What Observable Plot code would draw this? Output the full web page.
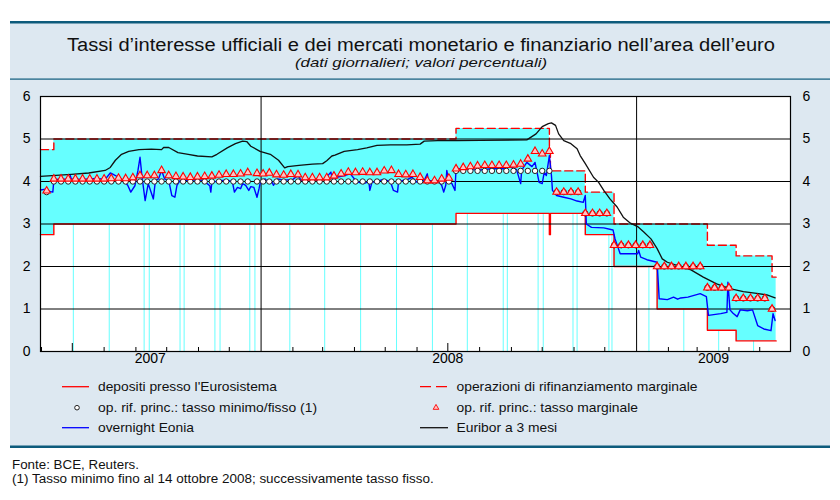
<!DOCTYPE html>
<html lang="it"><head><meta charset="utf-8">
<script src="https://cdn.jsdelivr.net/npm/d3@7"></script>
<script src="https://cdn.jsdelivr.net/npm/@observablehq/plot@0.6"></script>
<style>
html,body{margin:0;padding:0;background:#fff;}
#page{position:relative;width:840px;height:500px;overflow:hidden;font-family:"Liberation Sans",Arial,Helvetica,sans-serif;}
#bg,#fg{position:absolute;left:0;top:0;}
#chart{position:absolute;left:0;top:86px;}
#fg{pointer-events:none;}
</style></head><body>
<div id="page"><svg id="bg" width="840" height="500"></svg><div id="chart"></div><svg id="fg" width="840" height="500"></svg></div>
<script>
// ---------- DATA ----------
const titleText = "Tassi d’interesse ufficiali e dei mercati monetario e finanziario nell’area dell’euro";
const subtitleText = "(dati giornalieri; valori percentuali)";
const legendLabels = ["depositi presso l'Eurosistema","operazioni di rifinanziamento marginale","op. rif. princ.: tasso minimo/fisso (1)","op. rif. princ.: tasso marginale","overnight Eonia","Euribor a 3 mesi"];
const notes = ["Fonte: BCE, Reuters.","(1) Tasso minimo fino al 14 ottobre 2008; successivamente tasso fisso."];

const yTicks = [0,1,2,3,4,5,6];
const yearLabels = ["2007","2008","2009"];
const yearLabelDates = ["2007-09-15","2008-07-01","2009-03-17"];
const yearStarts = ["2008-01-01","2009-01-01"];
const midYearTicks = ["2007-07-01","2008-07-01"];

// official rates corridor (step changes)
const bandDates = ["2007-05-31","2007-06-13","2008-07-09","2008-10-08","2008-10-09","2008-11-12","2008-12-10","2009-01-21","2009-03-11","2009-04-08","2009-05-13","2009-05-17"];
const depRates  = [2.75,3.00,3.25,2.75,3.25,2.75,2.00,1.00,0.50,0.25,0.25,0.25];
const mlfRates  = [4.75,5.00,5.25,4.75,4.25,3.75,3.00,3.00,2.50,2.25,1.75,1.75];

// days where the corridor series drops to zero (thin cyan strokes)
const gapDates = ["2007-07-02","2007-08-06","2007-09-09","2007-09-14","2007-10-14","2007-10-18","2007-11-17","2007-11-22","2007-12-21","2007-12-26","2008-01-29","2008-03-03","2008-04-07","2008-05-12","2008-06-16","2008-07-20","2008-08-24","2008-08-28","2008-09-27","2008-10-02","2008-10-31","2008-11-04","2008-12-05","2008-12-08","2009-01-13","2009-02-16","2009-03-22","2009-04-25"];

// main refinancing operations
const mroDates = ["2007-06-06","2007-06-13","2007-06-20","2007-06-27","2007-07-04","2007-07-11","2007-07-18","2007-07-25","2007-08-01","2007-08-08","2007-08-15","2007-08-22","2007-08-29","2007-09-05","2007-09-12","2007-09-19","2007-09-26","2007-10-03","2007-10-10","2007-10-17","2007-10-24","2007-10-31","2007-11-07","2007-11-14","2007-11-21","2007-11-28","2007-12-05","2007-12-12","2007-12-19","2007-12-28",
"2008-01-03","2008-01-09","2008-01-16","2008-01-23","2008-01-30","2008-02-06","2008-02-13","2008-02-20","2008-02-27","2008-03-05","2008-03-12","2008-03-19","2008-03-26","2008-04-02","2008-04-09","2008-04-16","2008-04-23","2008-04-30","2008-05-07","2008-05-14","2008-05-21","2008-05-28","2008-06-04","2008-06-11","2008-06-18","2008-06-25","2008-07-02","2008-07-09","2008-07-16","2008-07-23","2008-07-30","2008-08-06","2008-08-13","2008-08-20","2008-08-27","2008-09-03","2008-09-10","2008-09-17","2008-09-24","2008-10-01","2008-10-08","2008-10-15","2008-10-22","2008-10-29","2008-11-05","2008-11-12","2008-11-19","2008-11-26","2008-12-03","2008-12-10","2008-12-17","2008-12-24","2008-12-31",
"2009-01-07","2009-01-14","2009-01-21","2009-01-28","2009-02-04","2009-02-11","2009-02-18","2009-02-25","2009-03-04","2009-03-11","2009-03-18","2009-03-25","2009-04-01","2009-04-08","2009-04-15","2009-04-22","2009-04-29","2009-05-06","2009-05-13"];
const mroRates = [3.75,4,4,4,4,4,4,4,4,4,4,4,4,4,4,4,4,4,4,4,4,4,4,4,4,4,4,4,4,4,
4,4,4,4,4,4,4,4,4,4,4,4,4,4,4,4,4,4,4,4,4,4,4,4,4,4,4,4.25,4.25,4.25,4.25,4.25,4.25,4.25,4.25,4.25,4.25,4.25,4.25,4.25,4.25,3.75,3.75,3.75,3.75,3.25,3.25,3.25,3.25,2.5,2.5,2.5,2.5,
2.5,2.5,2,2,2,2,2,2,2,1.5,1.5,1.5,1.5,1.25,1.25,1.25,1.25,1.25,1];
const margRates = [3.78,4.06,4.06,4.06,4.06,4.06,4.06,4.06,4.06,4.07,4.08,4.07,4.09,4.14,4.14,4.14,4.26,4.14,4.12,4.11,4.10,4.11,4.12,4.13,4.15,4.17,4.17,4.18,4.21,4.19,
4.18,4.20,4.16,4.15,4.17,4.16,4.09,4.09,4.09,4.09,4.13,4.18,4.22,4.21,4.22,4.21,4.21,4.25,4.26,4.17,4.16,4.17,4.10,4.02,4.02,4.06,4.08,4.30,4.33,4.35,4.37,4.38,4.38,4.38,4.38,4.39,4.41,4.53,4.71,4.65,4.71,3.75,3.75,3.75,3.75,3.25,3.25,3.25,3.25,2.5,2.5,2.5,2.5,
2.5,2.5,2,2,2,2,2,2,2,1.5,1.5,1.5,1.5,1.25,1.25,1.25,1.25,1.25,1];

// overnight Eonia
const eoniaDates = ["2007-05-31","2007-06-05","2007-06-08","2007-06-12","2007-06-13","2007-06-15","2007-06-27","2007-06-29","2007-06-30","2007-07-10","2007-07-17","2007-07-25","2007-08-02","2007-08-07","2007-08-09","2007-08-15","2007-08-20","2007-08-24","2007-08-27","2007-08-31","2007-09-03","2007-09-05","2007-09-07","2007-09-10","2007-09-13","2007-09-18","2007-09-20","2007-09-23","2007-09-26","2007-09-29","2007-10-03","2007-10-06","2007-10-09","2007-10-11","2007-10-14","2007-10-22","2007-10-29","2007-11-05","2007-11-08","2007-11-12","2007-11-13","2007-11-14","2007-11-22","2007-11-28","2007-12-04","2007-12-06","2007-12-09","2007-12-12","2007-12-14","2007-12-17","2007-12-20","2007-12-22","2007-12-25","2007-12-28","2007-12-30","2007-12-31",
"2008-01-02","2008-01-05","2008-01-08","2008-01-11","2008-01-13","2008-01-17","2008-01-24","2008-02-01","2008-02-06","2008-02-09","2008-02-16","2008-02-25","2008-03-03","2008-03-09","2008-03-11","2008-03-15","2008-03-22","2008-03-28","2008-04-01","2008-04-05","2008-04-10","2008-04-15","2008-04-16","2008-04-18","2008-04-23","2008-04-29","2008-05-06","2008-05-09","2008-05-13","2008-05-14","2008-05-22","2008-05-27","2008-06-01","2008-06-08","2008-06-11","2008-06-12","2008-06-21","2008-06-25","2008-06-27","2008-06-29","2008-06-30","2008-07-02","2008-07-05","2008-07-08","2008-07-09","2008-07-16","2008-07-25","2008-08-02","2008-08-12","2008-08-24","2008-08-31","2008-09-06","2008-09-10","2008-09-11","2008-09-16","2008-09-21","2008-09-24","2008-09-28","2008-10-01","2008-10-03","2008-10-05","2008-10-08","2008-10-10","2008-10-11","2008-10-15","2008-10-22","2008-10-29","2008-11-04","2008-11-10","2008-11-12","2008-11-13","2008-11-18","2008-11-30","2008-12-09","2008-12-11","2008-12-16","2008-12-25",
"2009-01-02","2009-01-03","2009-01-05","2009-01-11","2009-01-21","2009-01-23","2009-01-31","2009-02-06","2009-02-10","2009-02-13","2009-02-20","2009-02-26","2009-03-04","2009-03-10","2009-03-12","2009-03-24","2009-03-30","2009-03-31","2009-04-02","2009-04-05","2009-04-09","2009-04-12","2009-04-19","2009-04-24","2009-04-29","2009-05-05","2009-05-12","2009-05-14","2009-05-16"];
const eoniaValues = [3.80,3.82,3.77,3.75,4.02,4.05,4.06,4.14,4.06,4.05,4.06,4.07,4.05,4.20,4.18,4.10,4.02,3.91,3.75,3.90,4.26,4.57,4.10,3.55,3.95,3.59,4.02,4.06,4.26,4.06,4.02,3.67,3.63,3.91,4.02,4.03,4.04,4.03,3.98,3.90,3.75,3.98,4.02,4.03,4.00,3.75,3.86,3.83,3.95,3.91,3.79,3.88,3.86,3.63,3.83,3.95,
4.02,4.06,3.98,4.02,3.91,4.06,4.03,4.05,4.14,4.03,4.05,4.03,4.05,4.22,4.00,4.10,4.14,4.18,4.06,3.98,3.95,4.00,3.79,3.98,4.00,4.05,4.00,3.79,3.75,4.00,4.04,4.10,3.98,4.02,4.18,4.02,4.02,3.91,3.75,3.91,4.26,4.00,3.95,3.79,4.30,4.30,4.28,4.27,4.30,4.30,4.35,4.28,3.95,4.27,4.45,4.35,4.45,3.98,3.95,4.22,4.14,4.61,4.14,3.79,3.67,3.63,3.59,3.54,3.51,3.67,3.00,2.92,2.91,2.86,2.65,2.30,2.30,
2.30,2.38,2.22,2.16,2.10,1.24,1.22,1.28,1.23,1.26,1.28,1.32,1.36,1.29,0.85,0.89,0.92,1.63,0.98,0.90,0.82,0.98,0.96,0.98,0.61,0.53,0.49,0.89,0.73];

// 3-month Euribor
const euriborDates = ["2007-05-31","2007-06-30","2007-07-17","2007-08-02","2007-08-07","2007-08-12","2007-08-18","2007-08-25","2007-09-04","2007-09-16","2007-09-26","2007-09-28","2007-10-03","2007-10-12","2007-10-22","2007-10-31","2007-11-14","2007-11-19","2007-11-29","2007-12-07","2007-12-14","2007-12-18","2007-12-22","2007-12-31",
"2008-01-10","2008-01-18","2008-01-24","2008-01-27","2008-02-07","2008-02-20","2008-03-01","2008-03-05","2008-03-10","2008-03-13","2008-03-22","2008-04-04","2008-04-13","2008-04-23","2008-05-06","2008-05-22","2008-06-04","2008-06-08","2008-06-21","2008-07-10","2008-08-02","2008-09-16","2008-09-25","2008-10-01","2008-10-07","2008-10-10","2008-10-14","2008-10-17","2008-10-22","2008-10-29","2008-11-04","2008-11-07","2008-11-12","2008-11-20","2008-11-25","2008-11-30","2008-12-06","2008-12-13","2008-12-19","2008-12-26",
"2009-01-02","2009-01-08","2009-01-15","2009-01-21","2009-01-26","2009-01-31","2009-02-10","2009-02-23","2009-03-07","2009-03-20","2009-04-02","2009-04-15","2009-04-28","2009-05-08","2009-05-16"];
const euriborValues = [4.12,4.17,4.20,4.26,4.33,4.50,4.64,4.71,4.75,4.76,4.75,4.80,4.80,4.68,4.64,4.60,4.58,4.64,4.79,4.89,4.95,4.94,4.83,4.71,
4.64,4.50,4.32,4.35,4.38,4.41,4.42,4.49,4.60,4.62,4.71,4.75,4.79,4.85,4.86,4.86,4.88,4.95,4.96,4.96,4.97,4.98,5.12,5.29,5.36,5.38,5.32,5.12,4.96,4.89,4.77,4.61,4.42,4.10,3.98,3.79,3.59,3.40,3.16,3.02,
2.94,2.81,2.65,2.42,2.18,2.10,2.02,1.92,1.75,1.59,1.48,1.41,1.37,1.33,1.26];

// ---------- STYLE ----------
const FONT = '"Liberation Sans", Arial, Helvetica, sans-serif';
const CYAN = "#66ffff", RED = "#ff0000", BLUE = "#0000ff", PANEL = "#dde8f1", DARK = "#0d5b7c";

// ---------- BUILD ----------
const P = s => new Date(s);
const band = bandDates.map((d, i) => ({date: P(d), dep: depRates[i], mlf: mlfRates[i]}));
const bis = d3.bisector(d => d.date).right;
const depAt = dt => band[Math.max(0, bis(band, dt) - 1)].dep;
const gaps = gapDates.map(d => ({date: P(d), dep: depAt(P(d))}));
const mro = mroDates.map((d, i) => ({date: P(d), v: mroRates[i]}));
const marg = mroDates.map((d, i) => ({date: P(d), v: margRates[i]}));
const eonia = eoniaDates.map((d, i) => ({date: P(d), v: eoniaValues[i]}));
const euribor = euriborDates.map((d, i) => ({date: P(d), v: euriborValues[i]}));
const x0 = P("2007-05-31"), x1 = P("2009-05-31");
const monthTicks = d3.utcMonth.range(P("2007-06-01"), x1).filter(d => d.getUTCMonth() !== 0 && d.getUTCMonth() !== 6);

const innerH = 290 - 10 - 25;
const chart = Plot.plot({
  width: 840, height: 290,
  marginLeft: 40, marginRight: 50, marginTop: 10, marginBottom: 25,
  style: {fontFamily: FONT, fontSize: "14px", background: "transparent", color: "#000", overflow: "visible"},
  x: {type: "utc", domain: [x0, x1], axis: null},
  y: {domain: [0, 6], axis: null},
  marks: [
    Plot.frame({fill: "white", stroke: null}),
    Plot.areaY(band, {x: "date", y1: "dep", y2: "mlf", curve: "step-after", fill: CYAN}),
    Plot.ruleX(gaps, {x: "date", y1: 0, y2: "dep", stroke: CYAN, strokeWidth: 1}),
    Plot.line(band, {x: "date", y: "dep", curve: "step-after", stroke: RED, strokeWidth: 1.4}),
    Plot.line(band, {x: "date", y: "mlf", curve: "step-after", stroke: RED, strokeWidth: 1.4, strokeDasharray: "8,4"}),
    Plot.ruleY([1, 2, 3, 4, 5], {stroke: "black", strokeWidth: 1}),
    Plot.ruleX(yearStarts.map(P), {stroke: "black", strokeWidth: 1}),
    Plot.tickX(monthTicks, {x: d => d, insetTop: innerH - 4, stroke: "black"}),
    Plot.tickX(midYearTicks.map(P), {x: d => d, insetTop: innerH - 8, stroke: "black"}),
    Plot.line(eonia, {x: "date", y: "v", stroke: BLUE, strokeWidth: 1.4}),
    Plot.line(euribor, {x: "date", y: "v", stroke: "#111", strokeWidth: 1.3}),
    Plot.dot(mro, {x: "date", y: "v", r: 2.7, fill: "white", stroke: "#222", strokeWidth: 1}),
    Plot.dot(marg, {x: "date", y: "v", symbol: "triangle", r: 2.8, fill: "#ffc4c4", stroke: RED, strokeWidth: 1.1}),
    Plot.frame({stroke: "black", strokeWidth: 1.2}),
    Plot.axisY({anchor: "left", ticks: yTicks, tickSize: 0, tickPadding: 10, label: null, fontSize: 14, tickFormat: d => String(d)}),
    Plot.axisY({anchor: "right", ticks: yTicks, tickSize: 0, tickPadding: 12, label: null, fontSize: 14, tickFormat: d => String(d)}),
    Plot.text(yearLabels, {x: (d, i) => P(yearLabelDates[i]), text: d => d, frameAnchor: "bottom", dy: 11, fontSize: 14})
  ]
});
document.getElementById("chart").appendChild(chart);

// background panel
const bg = d3.select("#bg");
bg.append("rect").attr("x", 10).attr("y", 22).attr("width", 820).attr("height", 424).attr("fill", PANEL);
bg.append("rect").attr("x", 10).attr("y", 21).attr("width", 820).attr("height", 2.5).attr("fill", DARK);
bg.append("rect").attr("x", 10).attr("y", 78.5).attr("width", 820).attr("height", 1.2).attr("fill", DARK);
bg.append("rect").attr("x", 10).attr("y", 445.5).attr("width", 820).attr("height", 2.5).attr("fill", DARK);

// texts and legend
const fg = d3.select("#fg").style("font-family", FONT);
function txt(s, x, y, size, len, anchor = "start", italic = false) {
  const t = fg.append("text").attr("x", x).attr("y", y).attr("font-size", size).attr("text-anchor", anchor).attr("fill", "#111").text(s);
  if (italic) t.attr("font-style", "italic");
  if (len) t.attr("textLength", len).attr("lengthAdjust", "spacingAndGlyphs");
  return t;
}
txt(titleText, 421, 50.5, 18, 708, "middle");
txt(subtitleText, 421, 66.5, 13.5, 252, "middle", true);

const rows = [386.7, 407.7, 427.7];
const cols = [{lx: 62, tx: 98}, {lx: 420, tx: 456.5}];
const legendWidths = [179, 241, 219, 181.5, 96, 100.7];
legendLabels.forEach((s, i) => {
  const c = cols[i % 2], r = rows[Math.floor(i / 2)];
  txt(s, c.tx, r + 4.6, 13.5, legendWidths[i]);
});
// legend symbols
fg.append("line").attr("x1", 62).attr("x2", 89).attr("y1", rows[0]).attr("y2", rows[0]).attr("stroke", RED).attr("stroke-width", 1.3);
fg.append("line").attr("x1", 420).attr("x2", 448).attr("y1", rows[0]).attr("y2", rows[0]).attr("stroke", RED).attr("stroke-width", 1.3).attr("stroke-dasharray", "11,5");
fg.append("circle").attr("cx", 77).attr("cy", rows[1]).attr("r", 2.3).attr("fill", "white").attr("stroke", "#222");
fg.append("path").attr("transform", `translate(436,${rows[1]})`).attr("d", d3.symbol(d3.symbolTriangle, 14)()).attr("fill", "#ffc4c4").attr("stroke", RED).attr("stroke-width", 0.9);
fg.append("line").attr("x1", 62).attr("x2", 89).attr("y1", rows[2]).attr("y2", rows[2]).attr("stroke", BLUE).attr("stroke-width", 1.3);
fg.append("line").attr("x1", 420).attr("x2", 448).attr("y1", rows[2]).attr("y2", rows[2]).attr("stroke", "#111").attr("stroke-width", 1.3);

txt(notes[0], 12, 468.5, 12.5, 127);
txt(notes[1], 12, 482.5, 12.5, 421.7);
</script>
</body></html>
